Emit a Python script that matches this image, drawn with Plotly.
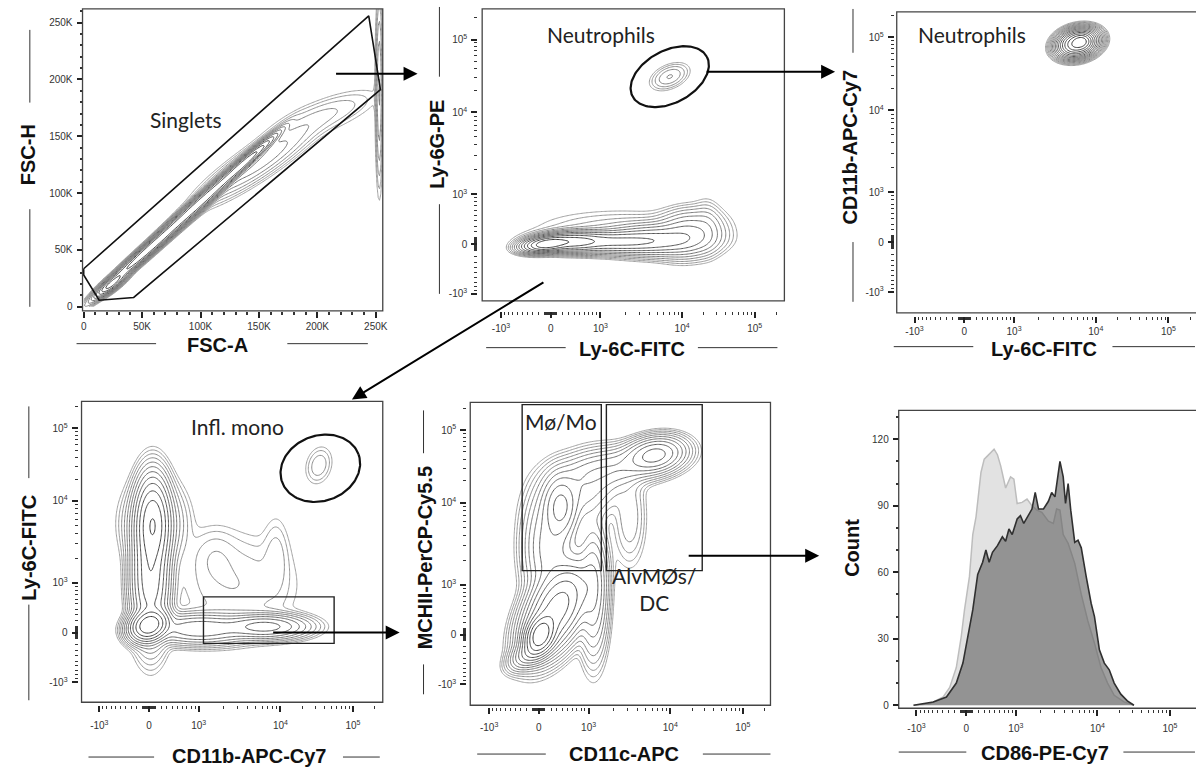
import numpy as np
import plotly.graph_objects as go

W, H = 1196, 771

# ---------------- data ----------------
fsc_tickvals = [0, 50, 100, 150, 200, 250]            # thousands
fsc_ticktext = ["0", "50K", "100K", "150K", "200K", "250K"]
logicle_decades = [-1000, 0, 1000, 10000, 100000]
logicle_ticktext = ["-10<sup>3</sup>", "0", "10<sup>3</sup>", "10<sup>4</sup>", "10<sup>5</sup>"]
count_tickvals = [0, 30, 60, 90, 120]

# cell populations: (centre x, centre y, sd x, sd y, correlation, relative peak)
# FSC panel in thousands, fluorescence panels in logicle display units
singlet_pops = [
    (24, 20, 6, 5, 0.85, 0.7),
    (55, 50, 18, 16.5, 0.985, 1.0),
    (100, 92, 20, 18.5, 0.985, 1.0),
    (138, 127, 12, 11, 0.97, 0.8),
    (150, 128, 25, 18, 0.90, 0.03),
    (205, 168, 25, 12, 0.75, 0.006),
    (253, 190, 1.6, 40, 0.0, 0.02),
]
ly6g_pops = [
    (-0.05, 0.00, 0.15, 0.05, 0.3, 1.00),
    (0.30, 0.03, 0.22, 0.06, 0.1, 0.45),
    (0.85, 0.03, 0.40, 0.07, 0.0, 0.22),
    (1.45, 0.06, 0.33, 0.10, 0.0, 0.12),
    (1.90, 0.14, 0.22, 0.15, 0.1, 0.07),
    (2.15, 0.22, 0.10, 0.18, 0.0, 0.01),
    (0.95, 0.18, 0.62, 0.15, 0.0, 0.006),
    (1.64, 2.30, 0.13, 0.09, 0.4, 0.012),
]
neut_pops = [
    (1.56, 2.73, 0.13, 0.09, 0.2, 1.0),
    (1.62, 2.76, 0.06, 0.05, 0.0, 0.3),
]
ly6c_pops = [
    (0.00, 0.10, 0.12, 0.10, 0.2, 1.00),
    (0.05, 1.50, 0.11, 0.30, 0.0, 0.55),
    (0.02, 0.75, 0.12, 0.40, 0.0, 0.30),
    (0.08, 1.50, 0.20, 0.28, 0.0, 0.04),
    (0.70, 0.05, 0.35, 0.10, 0.0, 0.10),
    (1.60, 0.08, 0.28, 0.08, 0.0, 0.14),
    (1.20, 0.65, 0.45, 0.38, 0.0, 0.006),
    (0.90, 1.05, 0.18, 0.22, 0.0, 0.004),
    (1.75, 1.05, 0.10, 0.30, 0.0, 0.004),
    (2.34, 2.30, 0.10, 0.14, 0.2, 0.0056),
]
mhc_pops = [
    (0.02, 0.00, 0.10, 0.13, 0.3, 1.00),
    (0.25, 0.35, 0.22, 0.30, 0.5, 0.35),
    (-0.05, -0.20, 0.15, 0.12, 0.6, 0.15),
    (0.75, 0.60, 0.10, 0.45, 0.0, 0.06),
    (0.30, 1.75, 0.12, 0.22, 0.0, 0.10),
    (0.15, 1.20, 0.18, 0.40, 0.0, 0.05),
    (0.60, 2.00, 0.30, 0.25, 0.3, 0.03),
    (1.10, 2.30, 0.40, 0.15, 0.4, 0.03),
    (1.60, 2.47, 0.20, 0.12, 0.2, 0.12),
    (1.25, 1.60, 0.12, 0.35, 0.0, 0.008),
]

# gates
singlet_gate_x = [0, 244, 254, 42.8, 13.2, 0, 0]
singlet_gate_y = [33.5, 256, 191, 8.2, 5.8, 28, 33.5]
neut_gate = (1.64, 2.30, 0.58, 0.36, 28)      # centre x, centre y, a, b, angle
mono_gate = (2.36, 2.26, 0.56, 0.45, 20)
lowly6c_gate = (0.75, 2.55, -0.15, 0.49)      # x0, x1, y0, y1
mo_gate = (-0.23, 0.86, 0.88, 3.16)
alv_gate = (0.93, 2.25, 0.88, 3.16)

# CD86 histograms (logicle display units, counts)
cd86_light_x = [-0.726, -0.499, -0.317, -0.227, -0.136, -0.068, -0.023, 0.045, 0.091, 0.136,
                0.204, 0.249, 0.295, 0.340, 0.385, 0.431, 0.476, 0.544, 0.612, 0.658,
                0.703, 0.771, 0.839, 0.907, 0.975, 1.043, 1.134, 1.202, 1.247, 1.293,
                1.338, 1.406, 1.497, 1.587, 1.678, 1.769, 1.859, 1.950, 2.041, 2.177, 2.313]
cd86_light_count = [0, 0.7, 3.7, 8, 17, 31, 43, 58, 77, 85,
                    105, 111, 112.5, 114, 115.5, 113, 108, 98, 103, 102,
                    91, 91.5, 93, 90, 88, 87, 83, 82, 88.5, 88,
                    77, 73, 64, 50, 38, 28, 17, 10, 4.5, 1.5, 0]
cd86_dark_x = [-0.726, -0.454, -0.272, -0.136, -0.045, 0.023, 0.091, 0.159, 0.227, 0.272,
               0.317, 0.363, 0.431, 0.499, 0.544, 0.590, 0.635, 0.703, 0.748, 0.794,
               0.862, 0.907, 0.952, 0.998, 1.066, 1.134, 1.179, 1.224, 1.293, 1.338,
               1.370, 1.406, 1.442, 1.497, 1.542, 1.587, 1.655, 1.723, 1.769, 1.837,
               1.905, 1.973, 2.041, 2.132, 2.222, 2.313]
cd86_dark_count = [0, 1.5, 3.7, 10, 19, 32, 43, 59, 64.5, 70,
                   64.5, 69, 72, 76, 74, 79.5, 77, 84, 85.5, 82,
                   86, 88.5, 96, 88.5, 88.5, 92, 96, 94, 110, 103,
                   91, 100, 88, 73.5, 74.5, 71, 58, 46, 40, 25,
                   19, 16, 10, 5, 2, 0]


# ---------------- helpers ----------------
def logicle(v):
    v = np.asarray(v, dtype=float)
    a = np.abs(v)
    lin = 0.685 * np.arcsinh(a / 700.0) / np.arcsinh(1000.0 / 700.0)
    mid = 0.685 + 1.125 * np.log10(np.maximum(a, 1e-9) / 1000.0)
    hi = 1.81 + np.log10(np.maximum(a, 1e-9) / 10000.0)
    out = np.where(a <= 1000, lin, np.where(a <= 10000, mid, hi))
    return np.sign(v) * out


def mixture(gx, gy, pops):
    X, Y = np.meshgrid(gx, gy)
    Z = np.zeros_like(X)
    for cx, cy, sx, sy, rho, h in pops:
        dx = (X - cx) / sx
        dy = (Y - cy) / sy
        q = (dx * dx - 2 * rho * dx * dy + dy * dy) / (1 - rho * rho)
        Z += h * np.exp(-0.5 * q)
    return Z


def ellipse(c):
    cx, cy, a, b, ang = c
    t = np.linspace(0, 2 * np.pi, 160)
    r = np.radians(ang)
    return (cx + a * np.cos(t) * np.cos(r) - b * np.sin(t) * np.sin(r),
            cy + a * np.cos(t) * np.sin(r) + b * np.sin(t) * np.cos(r))


def px_x(p):
    return p / W


def px_y(p):
    return 1 - p / H


minor_vals = []
for s in (1, -1):
    for n in (1, 2):
        for k in range(1, 10):
            minor_vals.append(s * k * 10 ** n)
for n in (3, 4):
    for k in range(2, 10):
        minor_vals.append(k * 10 ** n)
minor_vals.append(200000)

TICKFONT = dict(family="Liberation Sans", size=10, color="#333")

# panel boxes in pixels: left, right, top, bottom ; axis gaps (x-axis gap, y-axis gap)
boxes = {
    1: (81, 383, 9, 312),
    2: (483, 787, 9, 302),
    3: (900, 1196, 12, 314),
    4: (80, 383, 403, 705),
    5: (471, 773, 404, 708),
    6: (902, 1196, 412, 711),
}
gaps = {1: (0, 0), 2: (10, 5), 3: (3, 3), 4: (3, 4), 5: (2, 4), 6: (1, 0)}
x_label_standoff = {1: 0, 2: 2, 3: 0, 4: 5, 5: 5, 6: 4}


def dom(i):
    l, r, t, b = boxes[i]
    return [px_x(l), min(px_x(r), 1.0)], [px_y(b), px_y(t)]


def base_axis(i, letter, rng):
    l, r, t, b = boxes[i]
    gx, gy = gaps[i]
    dx, dy = dom(i)
    ax = dict(range=rng, ticks="outside", ticklen=6, tickwidth=1.5, tickcolor="#222",
              showline=False, showgrid=False, zeroline=False, tickfont=TICKFONT,
              fixedrange=True, anchor="free")
    if letter == "x":
        ax.update(domain=dx, position=px_y(b + gx), ticklabelstandoff=x_label_standoff[i])
    else:
        ax.update(domain=dy, position=px_x(l - gy), ticklabelstandoff=2)
    return ax


def log_axis(i, letter, rng):
    ax = base_axis(i, letter, rng)
    ax.update(tickmode="array", tickvals=list(logicle(logicle_decades)),
              ticktext=logicle_ticktext,
              minor=dict(tickmode="array", tickvals=list(logicle(minor_vals)),
                         ticks="outside", ticklen=3, tickwidth=1, tickcolor="#333",
                         showgrid=False))
    return ax


def lin_axis(i, letter, rng, vals, text, minor_step):
    ax = base_axis(i, letter, rng)
    ax.update(tickmode="array", tickvals=vals, ticktext=text,
              minor=dict(dtick=minor_step, tick0=0, ticks="outside", ticklen=3,
                         tickcolor="#333", showgrid=False))
    return ax


ranges = {
    1: ([-1, 256], [-3.5, 262]),
    2: ([-0.945, 3.22], [-0.78, 3.23]),
    3: ([-0.93, 3.12], [-0.97, 3.16]),
    4: ([-0.93, 3.22], [-0.96, 3.18]),
    5: ([-0.945, 3.19], [-0.97, 3.19]),
    6: ([-0.93, 3.10], [-1.35, 133]),
}

fig = go.Figure()
CONTOUR_SCALE = [[0, "#a0a0a0"], [1, "#3a3a3a"]]


def add_contour(i, pops, xr, yr, span, n):
    gx = np.linspace(xr[0], xr[1], 240)
    gy = np.linspace(yr[0], yr[1], 240)
    z = mixture(gx, gy, pops)
    lz = np.log10(z + 1e-300)
    zmax = lz.max()
    sfx = "" if i == 1 else str(i)
    fig.add_trace(go.Contour(
        x=gx, y=gy, z=lz, autocontour=False,
        contours=dict(coloring="lines", start=zmax - span, end=zmax - 0.02, size=span / n),
        line=dict(width=1, smoothing=1.0), colorscale=CONTOUR_SCALE, showscale=False,
        hoverinfo="skip", xaxis="x" + sfx, yaxis="y" + sfx))


# panel 1 (linear, thousands)
add_contour(1, singlet_pops, [0, 262], [0, 262], 3.0, 12)
fig.add_trace(go.Scatter(x=singlet_gate_x, y=singlet_gate_y, mode="lines",
                         line=dict(color="#111", width=1.6), hoverinfo="skip",
                         xaxis="x", yaxis="y"))
# panel 2
add_contour(2, ly6g_pops, *ranges[2], 3.0, 12)
ex, ey = ellipse(neut_gate)
fig.add_trace(go.Scatter(x=ex, y=ey, mode="lines", line=dict(color="#111", width=2.2),
                         hoverinfo="skip", xaxis="x2", yaxis="y2"))
# panel 3
add_contour(3, neut_pops, *ranges[3], 2.6, 16)
# panel 4
add_contour(4, ly6c_pops, *ranges[4], 3.0, 12)
ex, ey = ellipse(mono_gate)
fig.add_trace(go.Scatter(x=ex, y=ey, mode="lines", line=dict(color="#111", width=2.2),
                         hoverinfo="skip", xaxis="x4", yaxis="y4"))
# panel 5
add_contour(5, mhc_pops, *ranges[5], 3.0, 14)
# panel 6 histograms
fig.add_trace(go.Scatter(x=cd86_light_x, y=cd86_light_count, mode="lines", fill="tozeroy",
                         fillcolor="#e2e2e2", line=dict(color="#bdbdbd", width=1.5),
                         hoverinfo="skip", xaxis="x6", yaxis="y6"))
fig.add_trace(go.Scatter(x=cd86_dark_x, y=cd86_dark_count, mode="lines", fill="tozeroy",
                         fillcolor="rgba(95,95,95,0.6)", line=dict(color="#303030", width=1.6),
                         hoverinfo="skip", xaxis="x6", yaxis="y6"))

layout = dict(width=W, height=H, margin=dict(l=0, r=0, t=0, b=0),
              paper_bgcolor="white", plot_bgcolor="white", showlegend=False,
              font=dict(family="Liberation Sans"))

layout["xaxis"] = lin_axis(1, "x", ranges[1][0], fsc_tickvals, fsc_ticktext, 10)
layout["yaxis"] = lin_axis(1, "y", ranges[1][1], fsc_tickvals, fsc_ticktext, 10)
for i in (2, 3, 4, 5):
    layout["xaxis%d" % i] = log_axis(i, "x", ranges[i][0])
    layout["yaxis%d" % i] = log_axis(i, "y", ranges[i][1])
layout["xaxis6"] = log_axis(6, "x", ranges[6][0])
layout["yaxis6"] = lin_axis(6, "y", ranges[6][1], count_tickvals,
                            [str(v) for v in count_tickvals], 10)

shapes = []
# frames
for i in range(1, 7):
    sfx = "" if i == 1 else str(i)
    x1 = 1.2 if i in (3, 6) else 1
    shapes.append(dict(type="rect", xref="x%s domain" % sfx, yref="y%s domain" % sfx,
                       x0=0, x1=x1, y0=0, y1=1, line=dict(color="#444", width=1.3)))
# rectangular gates
for (x0, x1, y0, y1), ax in ((lowly6c_gate, "4"), (mo_gate, "5"), (alv_gate, "5")):
    shapes.append(dict(type="rect", xref="x" + ax, yref="y" + ax, x0=x0, x1=x1, y0=y0,
                       y1=y1, line=dict(color="#222", width=1.4)))

# flanking lines of axis titles (pixel positions)
hlines = [(345, 75, 155), (345, 287, 368), (349, 487, 567), (349, 700, 780),
          (348, 897, 977), (348, 1117, 1200), (760, 87, 153), (760, 343, 380),
          (757, 478, 547), (757, 705, 773), (755, 902, 970), (755, 1128, 1200)]
vlines = [(28, 30, 103), (28, 210, 308), (440, 7, 77), (440, 205, 295),
          (856, 9, 53), (856, 243, 303), (27, 408, 480), (27, 607, 703),
          (424, 412, 455), (424, 667, 697)]
for y, a, b in hlines:
    shapes.append(dict(type="line", xref="paper", yref="paper", x0=px_x(a), x1=px_x(b),
                       y0=px_y(y), y1=px_y(y), line=dict(color="#333", width=1)))
for x, a, b in vlines:
    shapes.append(dict(type="line", xref="paper", yref="paper", x0=px_x(x), x1=px_x(x),
                       y0=px_y(a), y1=px_y(b), line=dict(color="#333", width=1)))
layout["shapes"] = shapes

ann = []
TITLEFONT = dict(family="Liberation Sans", size=20, color="#111")
titles = [
    ("FSC-H", 27, 155, -90), ("FSC-A", 217, 346, 0),
    ("Ly-6G-PE", 438, 145, -90), ("Ly-6C-FITC", 634, 350, 0),
    ("CD11b-APC-Cy7", 853, 148, -90), ("Ly-6C-FITC", 1048, 350, 0),
    ("Ly-6C-FITC", 27, 550, -90), ("CD11b-APC-Cy7", 248, 759, 0),
    ("MCHII-PerCP-Cy5.5", 425, 560, -90), ("CD11c-APC", 626, 757, 0),
    ("Count", 855, 550, -90), ("CD86-PE-Cy7", 1049, 756, 0),
]
for t, x, y, ang in titles:
    ann.append(dict(text="<b>%s</b>" % t, x=px_x(x), y=px_y(y), xref="paper", yref="paper",
                    showarrow=False, textangle=ang, font=TITLEFONT,
                    xanchor="center", yanchor="middle"))
GATEFONT = dict(family="Lato", size=21, color="#222")
gate_labels = [("Singlets", 185, 120), ("Neutrophils", 603, 35), ("Neutrophils", 976, 35),
               ("Infl. mono", 237, 428), ("Mø/Mo", 562, 423), ("AlvMØs/<br>DC", 656, 591)]
for t, x, y in gate_labels:
    ann.append(dict(text=t, x=px_x(x), y=px_y(y), xref="paper", yref="paper",
                    showarrow=False, font=GATEFONT, xanchor="center", yanchor="middle"))
arrows = [((335, 74), (418, 74)), ((708, 72), (838, 72)), ((545, 283), (352, 401)),
          ((272, 635), (400, 635)), ((690, 558), (822, 558))]
for (tx, ty), (hx, hy) in arrows:
    ann.append(dict(text="", x=px_x(hx), y=px_y(hy), xref="paper", yref="paper",
                    ax=tx - hx, ay=ty - hy, axref="pixel", ayref="pixel", showarrow=True,
                    arrowhead=2, arrowsize=1.4, arrowwidth=2, arrowcolor="#000", standoff=0))
layout["annotations"] = ann

fig.update_layout(**layout)
fig.write_html("out.html", config={"displayModeBar": False},
               post_script="document.body.style.margin='0px';document.body.style.overflow='hidden';")
